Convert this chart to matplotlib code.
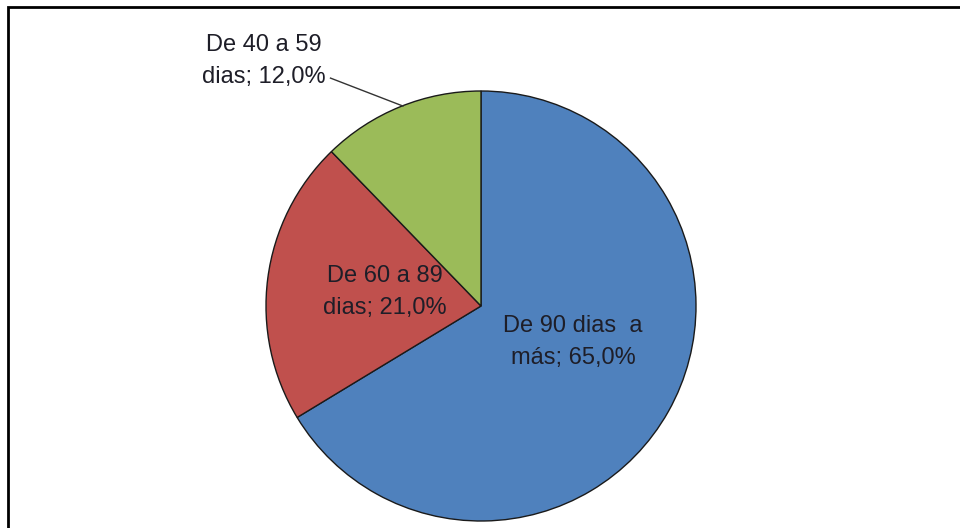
import matplotlib
matplotlib.use('Agg')
import matplotlib.pyplot as plt
from matplotlib.patches import Rectangle

plt.rcParams['font.family'] = ['Liberation Sans', 'DejaVu Sans']

# Datos: días de atraso
categorias = ['De 90 dias  a\nmás', 'De 60 a 89\ndias', 'De 40 a 59\ndias']
valores = [65.0, 21.0, 12.0]
colores = ['#4F81BD', '#C0504D', '#9BBB59']
# posición de cada etiqueta (coordenadas del pie, radio 1)
pos_etiquetas = [(0.428, -0.167), (-0.447, 0.065), (-1.009, 1.14)]

fig = plt.figure(figsize=(9.6, 5.28), dpi=100)

# marco del gráfico
fig.patches.append(Rectangle((8 / 960, -0.1), 1.1, (528 - 7) / 528 + 0.1,
                             transform=fig.transFigure, fill=False,
                             edgecolor='black', linewidth=2.0))

cx, cy, r = 481, 306, 215
ax = fig.add_axes([(cx - r) / 960, (528 - cy - r) / 528, 2 * r / 960, 2 * r / 528])

wedges, _ = ax.pie(valores, colors=colores, startangle=90, counterclock=False,
                   radius=1, wedgeprops=dict(edgecolor='#1a1a1a', linewidth=1.0))
ax.set_xlim(-1, 1)
ax.set_ylim(-1, 1)
ax.set_aspect('equal')
ax.axis('off')

etiquetas = [f"{c}; {v:.1f}%".replace('.', ',') for c, v in zip(categorias, valores)]

for (x, y), txt in zip(pos_etiquetas, etiquetas):
    ax.text(x, y, txt, ha='center', va='center', fontsize=17,
            color='#1e1e28', linespacing=1.6, clip_on=False)

# línea guía de la porción verde
ax.plot([-0.70, -0.363], [1.06, 0.93], color='#333333', linewidth=1.0, clip_on=False)

fig.savefig('out.png', dpi=100)
